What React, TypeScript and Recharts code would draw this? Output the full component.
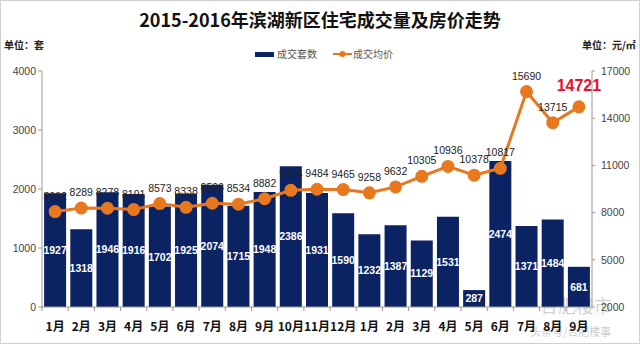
import React from "react";
import {
  ComposedChart,
  Bar,
  Line,
  XAxis,
  YAxis,
  LabelList,
} from "recharts";

const months = [
  "1月", "2月", "3月", "4月", "5月", "6月", "7月", "8月", "9月", "10月", "11月", "12月",
  "1月", "2月", "3月", "4月", "5月", "6月", "7月", "8月", "9月",
];
const deals = [
  1927, 1318, 1946, 1916, 1702, 1925, 2074, 1715, 1948, 2386, 1931, 1590,
  1232, 1387, 1129, 1531, 287, 2474, 1371, 1484, 681,
];
const prices = [
  8062, 8289, 8278, 8191, 8573, 8338, 8596, 8534, 8882, 9414, 9484, 9465,
  9258, 9632, 10305, 10936, 10378, 10817, 15690, 13715, 14721,
];
const leftTicks = [0, 1000, 2000, 3000, 4000];
const rightTicks = [2000, 5000, 8000, 11000, 14000, 17000];

const data = months.map((m, i) => ({ key: i, month: m, deals: deals[i], price: prices[i] }));

const NAVY = "#0b2263";
const ORANGE = "#e8781f";
const FONT = "'Noto Sans CJK SC', 'Noto Sans', sans-serif";
const NUM = "'Liberation Sans', Arial, sans-serif";

function MonthTick(props: any) {
  const { x, y, payload } = props;
  const half = payload.offset ?? 13;
  return (
    <g>
      <line x1={x - half} x2={x - half} y1={y - 8} y2={y - 4} stroke="#999" />
      <text x={x} y={y + 16} textAnchor="middle" fontSize={12} fontWeight="bold" fill="#111" fontFamily={FONT}>
        {months[payload.value]}
      </text>
    </g>
  );
}

function PriceLabel(props: any) {
  const { x, y, value, index } = props;
  const last = index === prices.length - 1;
  return (
    <text
      x={x}
      y={last ? y - 16 : y - 12}
      textAnchor="middle"
      fontSize={last ? 16 : 10.5}
      fontWeight={last ? "bold" : "normal"}
      fill={last ? "#e8102a" : "#222"}
      fontFamily={NUM}
    >
      {value}
    </text>
  );
}

export default function App() {
  return (
    <div
      style={{
        position: "fixed",
        left: 0,
        top: 0,
        width: 640,
        height: 344,
        background: "#fff",
        fontFamily: FONT,
      }}
    >
      <div style={{ position: "absolute", top: 6, width: "100%", textAlign: "center", fontSize: 18, lineHeight: "26px", fontWeight: "bold", color: "#111" }}>
        2015-2016年滨湖新区住宅成交量及房价走势
      </div>
      <div style={{ position: "absolute", top: 38, left: 4, fontSize: 10, lineHeight: "14px", fontWeight: "bold", color: "#222" }}>单位：套</div>
      <div style={{ position: "absolute", top: 38, left: 582, fontSize: 10, lineHeight: "14px", fontWeight: "bold", color: "#222" }}>单位：元/㎡</div>
      <div style={{ position: "absolute", top: 47, left: 255, display: "flex", fontSize: 10, lineHeight: "14px", color: "#555" }}>
        <span style={{ display: "flex", alignItems: "center", marginRight: 16 }}>
          <span style={{ width: 19, height: 5, background: NAVY, marginRight: 3 }} />
          成交套数
        </span>
        <span style={{ display: "flex", alignItems: "center" }}>
          <svg width={19} height={10} style={{ marginRight: 1 }}>
            <line x1={0} x2={19} y1={5} y2={5} stroke={ORANGE} strokeWidth={2} />
            <circle cx={9.5} cy={5} r={3} fill={ORANGE} />
          </svg>
          成交均价
        </span>
      </div>
      <div style={{ position: "absolute", top: 292, left: 540, fontSize: 18, color: "rgba(170,170,170,0.55)" }}>合肥楼市</div>
      <div style={{ position: "absolute", top: 323, left: 530, fontSize: 11, color: "rgba(170,170,170,0.6)" }}>头条号/合肥楼事</div>
      <ComposedChart
        width={640}
        height={344}
        data={data}
        margin={{ top: 71, right: 0, bottom: 0, left: 0 }}
        barCategoryGap="8%"
        style={{ position: "absolute", left: 0, top: 0 }}
      >
        <XAxis
          dataKey="key"
          type="category"
          interval={0}
          height={37}
          axisLine={{ stroke: "#999" }}
          tickLine={false}
          tick={<MonthTick />}
        />
        <YAxis
          yAxisId="left"
          orientation="left"
          width={42}
          domain={[0, 4000]}
          ticks={leftTicks}
          interval={0}
          tick={{ fontSize: 10.5, fill: "#444", fontFamily: NUM }}
          axisLine={{ stroke: "#999" }}
          tickLine={{ stroke: "#999" }}
          tickSize={4}
        />
        <YAxis
          yAxisId="right"
          orientation="right"
          width={48}
          domain={[2000, 17000]}
          ticks={rightTicks}
          interval={0}
          tick={{ fontSize: 10.5, fill: "#444", fontFamily: NUM, dx: 4 }}
          axisLine={{ stroke: "#999" }}
          tickLine={{ stroke: "#999" }}
          tickSize={3}
        />
        <Bar yAxisId="left" dataKey="deals" name="成交套数" fill={NAVY} isAnimationActive={false}>
          <LabelList dataKey="deals" position="center" fill="#fff" fontSize={10.5} fontWeight="bold" fontFamily={NUM} />
        </Bar>
        <Line
          yAxisId="right"
          dataKey="price"
          name="成交均价"
          stroke={ORANGE}
          strokeWidth={3}
          dot={{ r: 5, fill: ORANGE, stroke: ORANGE }}
          isAnimationActive={false}
        >
          <LabelList dataKey="price" content={<PriceLabel />} />
        </Line>
      </ComposedChart>
      <div style={{ position: "absolute", inset: 0, border: "1px solid #cfcfcf", pointerEvents: "none" }} />
    </div>
  );
}
